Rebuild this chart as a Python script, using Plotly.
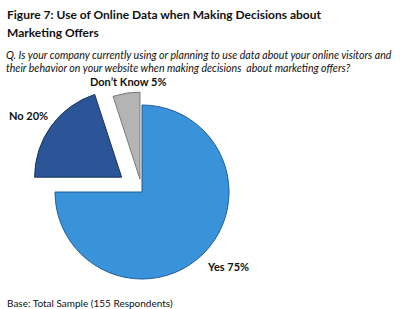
import plotly.graph_objects as go

labels = ["Yes", "No", "Don't Know"]
values = [75, 20, 5]
pulls = [0, 0.29, 0.15]
colors = ["#3993DA", "#2B5596", "#B4B4B4"]
line_colors = ["#1F5E98", "#17345F", "#7A7A7A"]
label_text = ["Yes 75%", "No 20%", "Don\u2019t Know 5%"]
label_pos = [(228, 266), (29, 115), (128, 82)]

title_lines = ["Figure 7: Use of Online Data when Making Decisions about", "Marketing Offers"]
title_y = [14, 33]
question_lines = ["Q. Is your company currently using or planning to use data about your online visitors and",
                  "their behavior on your website when making decisions  about marketing offers?"]
question_y = [55, 68]
base_text = "Base: Total Sample (155 Respondents)"

W, H = 400, 309
cx, cy, r = 142, 192, 87
maxp = max(pulls)
half = r * (1 + maxp)

fig = go.Figure(go.Pie(
    labels=labels, values=values, pull=pulls, sort=False,
    direction="clockwise", rotation=0,
    marker=dict(colors=colors, line=dict(color=line_colors, width=1)),
    textinfo="none", hoverinfo="label+percent", showlegend=False,
    domain=dict(x=[(cx - half) / W, (cx + half) / W],
                y=[(H - cy - half) / H, (H - cy + half) / H]),
))

annots = []
for t, py in zip(title_lines, title_y):
    annots.append(dict(text="<b>" + t + "</b>", x=5 / W, y=1 - py / H, xref="paper", yref="paper",
                       xanchor="left", yanchor="middle", align="left", showarrow=False,
                       font=dict(family="Lato", size=12, color="#111111")))
for t, py in zip(question_lines, question_y):
    annots.append(dict(text="<i>" + t + "</i>", x=4 / W, y=1 - py / H, xref="paper", yref="paper",
                       xanchor="left", yanchor="middle", align="left", showarrow=False,
                       font=dict(family="Lato", size=10.6, color="#111111")))
annots.append(dict(text=base_text, x=5 / W, y=1 - 303 / H, xref="paper", yref="paper",
                   xanchor="left", yanchor="middle", align="left", showarrow=False,
                   font=dict(family="Lato", size=10, color="#111111")))
for t, (px, py) in zip(label_text, label_pos):
    annots.append(dict(text="<b>" + t + "</b>", x=px / W, y=1 - py / H, xref="paper", yref="paper",
                       xanchor="center", yanchor="middle", showarrow=False,
                       font=dict(family="Lato", size=11, color="#111111")))

fig.update_layout(
    width=W, height=H, margin=dict(l=0, r=0, t=0, b=0),
    paper_bgcolor="white", plot_bgcolor="white",
    annotations=annots,
)

fig.write_html("out.html")
